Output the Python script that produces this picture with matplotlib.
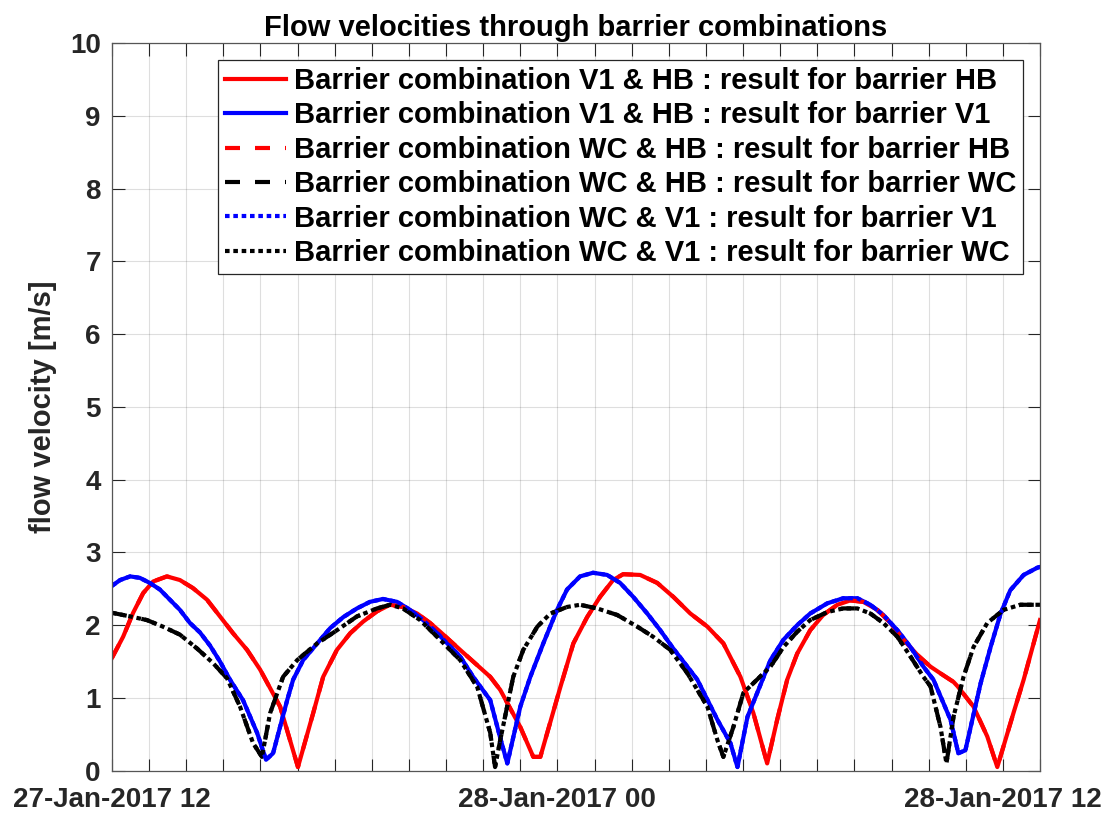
import numpy as np
import pandas as pd
import matplotlib
matplotlib.use("Agg")
import matplotlib.pyplot as plt

plt.rcParams['font.family'] = ['Liberation Sans', 'DejaVu Sans']
plt.rcParams['font.weight'] = 'bold'

# ---------------- data (hours after 27-Jan-2017 12:00) ----------------
start_time = "2017-01-27 12:00"
end_time = "2017-01-28 13:00"

# Barrier combination V1 & HB : result for barrier HB (red)
h_v1hb_hb = [0.0, 0.30, 0.57, 0.84, 1.11, 1.48, 1.83, 2.18, 2.56, 2.91,
             3.26, 3.64, 3.99, 4.53, 5.01, 5.42, 5.69, 6.06, 6.42, 6.77,
             7.14, 7.49, 7.84, 8.22, 8.57, 8.84, 9.38, 10.19, 10.46, 11.00,
             11.35, 11.54, 12.08, 12.43, 12.80, 13.15, 13.50, 13.77, 14.23, 14.69,
             15.12, 15.58, 16.04, 16.47, 16.93, 17.28, 17.65, 17.92, 18.19, 18.46,
             18.81, 19.16, 19.54, 19.89, 20.24, 20.62, 20.97, 21.32, 21.70, 22.05,
             22.40, 22.67, 22.78, 23.21, 23.58, 23.85, 24.29, 24.56, 25.0]
v_v1hb_hb = [1.55, 1.84, 2.17, 2.44, 2.60, 2.67, 2.62, 2.51, 2.35, 2.12,
             1.89, 1.66, 1.39, 0.88, 0.05, 0.79, 1.29, 1.66, 1.89, 2.05,
             2.19, 2.28, 2.25, 2.16, 2.03, 1.91, 1.66, 1.29, 1.11, 0.60,
             0.19, 0.19, 1.15, 1.75, 2.11, 2.39, 2.62, 2.70, 2.69, 2.58,
             2.39, 2.16, 1.98, 1.75, 1.29, 0.79, 0.10, 0.70, 1.25, 1.61,
             1.93, 2.14, 2.28, 2.34, 2.32, 2.21, 2.03, 1.80, 1.59, 1.43,
             1.31, 1.22, 1.16, 0.88, 0.47, 0.05, 0.80, 1.25, 2.07]

# Barrier combination V1 & HB : result for barrier V1 (blue)
h_v1hb_v1 = [0.0, 0.22, 0.49, 0.75, 1.02, 1.29, 1.56, 1.83, 2.10, 2.37,
             2.64, 2.91, 3.18, 3.53, 3.91, 4.15, 4.34, 4.72, 4.88, 5.15,
             5.53, 5.88, 6.23, 6.60, 6.95, 7.30, 7.68, 8.03, 8.38, 8.76,
             9.38, 9.73, 10.19, 10.46, 10.65, 11.00, 11.27, 11.62, 11.99, 12.26,
             12.61, 12.96, 13.34, 13.69, 14.04, 14.42, 14.77, 15.12, 15.50, 15.77,
             16.31, 16.66, 16.85, 17.12, 17.74, 18.09, 18.46, 18.81, 19.27, 19.70,
             20.08, 20.43, 20.78, 21.16, 21.51, 21.86, 22.13, 22.59, 22.80, 22.99,
             23.40, 23.67, 23.94, 24.20, 24.56, 24.93, 25.0]
v_v1hb_v1 = [2.54, 2.62, 2.67, 2.65, 2.58, 2.49, 2.35, 2.21, 2.03, 1.90,
             1.72, 1.50, 1.25, 0.97, 0.52, 0.15, 0.24, 0.97, 1.25, 1.52,
             1.75, 1.96, 2.11, 2.23, 2.32, 2.36, 2.32, 2.21, 2.07, 1.89,
             1.57, 1.29, 0.97, 0.45, 0.10, 0.88, 1.29, 1.75, 2.21, 2.49,
             2.67, 2.72, 2.69, 2.58, 2.39, 2.16, 1.93, 1.68, 1.43, 1.25,
             0.70, 0.38, 0.05, 0.74, 1.52, 1.80, 2.00, 2.16, 2.30, 2.37,
             2.37, 2.28, 2.14, 1.93, 1.70, 1.43, 1.25, 0.70, 0.24, 0.28,
             1.20, 1.70, 2.16, 2.48, 2.69, 2.79, 2.80]

# Barrier combination WC & HB : result for barrier HB (red dashed, on top of red)
h_wchb_hb = list(h_v1hb_hb)
v_wchb_hb = list(v_v1hb_hb)

# Barrier combination WC & HB : result for barrier WC (black dashed)
h_wchb_wc = [0.0, 0.49, 0.94, 1.37, 1.83, 2.29, 2.72, 3.10, 3.45, 3.80,
             4.04, 4.26, 4.61, 4.99, 5.53, 6.06, 6.60, 7.14, 7.49, 7.84,
             8.30, 8.76, 9.38, 9.84, 10.19, 10.32, 10.46, 10.81, 11.08, 11.46,
             11.81, 12.26, 12.61, 13.07, 13.61, 14.15, 14.58, 15.04, 15.50, 16.04,
             16.31, 16.47, 16.74, 17.01, 17.74, 18.09, 18.46, 18.81, 19.27, 19.70,
             20.08, 20.43, 20.78, 21.16, 21.51, 21.86, 22.05, 22.32, 22.48, 22.67,
             22.94, 23.21, 23.58, 24.02, 24.47, 25.0]
v_wchb_wc = [2.17, 2.12, 2.07, 1.98, 1.87, 1.68, 1.48, 1.27, 0.88, 0.38,
             0.19, 0.79, 1.29, 1.52, 1.75, 1.93, 2.12, 2.23, 2.28, 2.23,
             2.07, 1.84, 1.52, 1.15, 0.52, 0.05, 0.42, 1.29, 1.66, 1.98,
             2.16, 2.25, 2.28, 2.23, 2.14, 1.98, 1.84, 1.66, 1.34, 0.88,
             0.42, 0.19, 0.60, 1.07, 1.43, 1.70, 1.91, 2.07, 2.18, 2.23,
             2.23, 2.16, 2.03, 1.84, 1.57, 1.29, 1.16, 0.60, 0.10, 0.74,
             1.29, 1.70, 2.03, 2.21, 2.28, 2.28]

# Barrier combination WC & V1 : result for barrier V1 (blue dotted, on top of blue)
h_wcv1_v1 = list(h_v1hb_v1)
v_wcv1_v1 = list(v_v1hb_v1)

# Barrier combination WC & V1 : result for barrier WC (black dotted)
h_wcv1_wc = list(h_wchb_wc)
v_wcv1_wc = list(v_wchb_wc)

labels = [
    "Barrier combination V1 & HB : result for barrier HB",
    "Barrier combination V1 & HB : result for barrier V1",
    "Barrier combination WC & HB : result for barrier HB",
    "Barrier combination WC & HB : result for barrier WC",
    "Barrier combination WC & V1 : result for barrier V1",
    "Barrier combination WC & V1 : result for barrier WC",
]

tick_label_map = {0: "27-Jan-2017 12", 12: "28-Jan-2017 00", 24: "28-Jan-2017 12"}

# ---------------- figure ----------------
t0 = pd.Timestamp(start_time)
def to_time(h):
    return t0 + pd.to_timedelta(np.asarray(h), unit="h")

fig = plt.figure(figsize=(11.13, 8.14), dpi=100)
ax = fig.add_axes([0.1006, 0.0532, 0.8338, 0.8940])

lw = 3.0
series = [
    (h_v1hb_hb, v_v1hb_hb, dict(color='#ff0000', linestyle='-')),
    (h_v1hb_v1, v_v1hb_v1, dict(color='#0000ff', linestyle='-')),
    (h_wchb_hb, v_wchb_hb, dict(color='#ff0000', linestyle=(0, (3.6, 3.6)))),
    (h_wchb_wc, v_wchb_wc, dict(color='#000000', linestyle=(0, (3.6, 3.6)))),
    (h_wcv1_v1, v_wcv1_v1, dict(color='#0000ff', linestyle=(0, (1.1, 0.9)))),
    (h_wcv1_wc, v_wcv1_wc, dict(color='#000000', linestyle=(0, (1.1, 0.9)))),
]
for (h, v, st), lab in zip(series, labels):
    ax.plot(to_time(h), v, lw=lw, label=lab, solid_joinstyle='round',
            dash_joinstyle='round', **st)

ticks = pd.date_range(start_time, end_time, freq="h")
ax.set_xlim(ticks[0], ticks[-1])
ax.set_ylim(0, 10)
ax.set_xticks(ticks)
ax.set_xticklabels([tick_label_map.get(i, "") for i in range(len(ticks))])
ax.set_yticks(range(0, 11))
ax.set_yticklabels([str(i) for i in range(0, 11)])

tc = '#262626'
ax.tick_params(axis='both', direction='in', length=9, width=0.8, color=tc,
               labelcolor=tc, labelsize=20, top=True, right=True)
ax.tick_params(axis='x', pad=12)
ax.tick_params(axis='y', pad=8)
for lab in ax.get_xticklabels() + ax.get_yticklabels():
    lab.set_fontweight('bold')
for s in ax.spines.values():
    s.set_color('#555555')
    s.set_linewidth(0.9)

ax.grid(True, color='#262626', alpha=0.15, lw=0.8)
ax.set_axisbelow(True)

ax.set_ylabel("flow velocity [m/s]", fontsize=21, fontweight='bold', color=tc, labelpad=9)
ax.set_title("Flow velocities through barrier combinations", fontsize=21,
             fontweight='bold', color='black', pad=5)

leg = ax.legend(loc='upper right', fontsize=21, frameon=True, fancybox=False,
                edgecolor='#262626', framealpha=1, borderaxespad=0.57,
                handlelength=2.1, handletextpad=0.25, labelspacing=0.22,
                borderpad=0.25)
leg.get_frame().set_linewidth(0.9)
for t in leg.get_texts():
    t.set_fontweight('bold')

fig.savefig("out.png", dpi=100)
